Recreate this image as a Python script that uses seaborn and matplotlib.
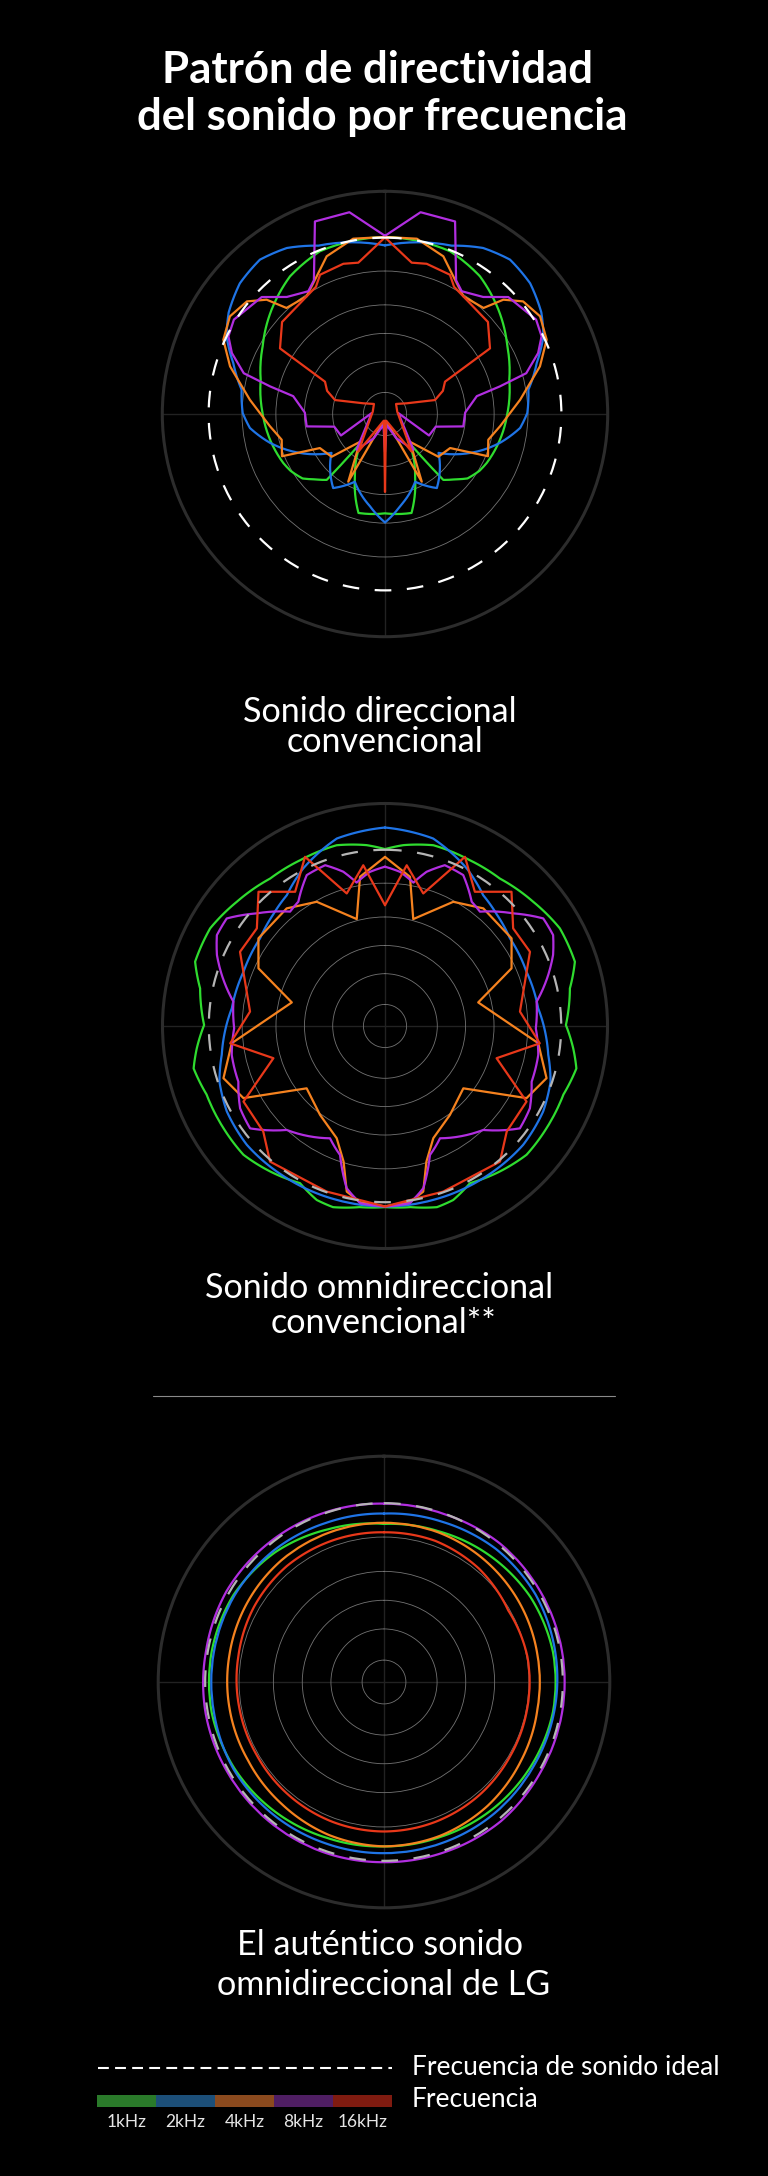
import numpy as np
import pandas as pd
import matplotlib
matplotlib.use("Agg")
import matplotlib.pyplot as plt
import seaborn as sns
from matplotlib.patches import Rectangle

# --------------------------------------------------
# THEME
# --------------------------------------------------
sns.set_theme(style="dark", rc={"axes.facecolor": "black", "figure.facecolor": "black"})
plt.rcParams['font.family'] = ['Lato', 'DejaVu Sans']

W, H = 768, 2176

# --------------------------------------------------
# DATA (angle in degrees clockwise from front, radius relative to outer ring)
# --------------------------------------------------
FREQS = ['1kHz', '2kHz', '4kHz', '8kHz', '16kHz']
LINE_COLORS = ['#2fdc2f', '#1f74e6', '#f5821f', '#b12ee0', '#e8381a']
LEGEND_COLORS = ['#2a7a2a', '#1c4f79', '#8b4a1e', '#4f1e63', '#7f1b10']

IDEAL_R = 0.792
RING_R = [0.097, 0.235, 0.362, 0.49, 0.642]

# chart 1: conventional directional (half profiles, mirrored)
c1_theta_1k = [0, 21.8, 34.6, 47.4, 61, 74.6, 89.5, 102.6, 115.7, 121, 128, 133, 138.5, 140, 154.4, 165, 180]
c1_r_1k = [0.795, 0.787, 0.751, 0.692, 0.628, 0.579, 0.55, 0.529, 0.507, 0.495, 0.47, 0.43, 0.395, 0.163, 0.312, 0.46, 0.446]

c1_theta_2k = [0, 21.6, 30.6, 39, 48, 57, 63.9, 71.4, 80.4, 89.6, 95.9, 104, 110, 126, 145, 156, 170.8, 180]
c1_r_2k = [0.757, 0.813, 0.866, 0.892, 0.877, 0.837, 0.792, 0.719, 0.653, 0.639, 0.61, 0.533, 0.47, 0.297, 0.406, 0.333, 0.42, 0.487]

c1_theta_4k = [0, 10.3, 20.3, 26.4, 33.7, 42.9, 46, 50.8, 57.8, 65.3, 72.9, 84, 96, 104, 112.3, 117.6, 128.7, 138, 151.5, 167, 180]
c1_r_4k = [0.795, 0.80, 0.755, 0.69, 0.635, 0.65, 0.739, 0.80, 0.823, 0.799, 0.728, 0.61, 0.52, 0.478, 0.50, 0.33, 0.307, 0.168, 0.346, 0.035, 0.05]

c1_theta_8k = [0, 10, 20, 28, 32, 40, 46.5, 58, 63.6, 68.3, 73.9, 76.5, 79, 89, 99, 104, 116, 86, 141.5, 155, 172, 180]
c1_r_8k = [0.80, 0.92, 0.92, 0.68, 0.65, 0.686, 0.763, 0.80, 0.785, 0.74, 0.66, 0.53, 0.42, 0.36, 0.356, 0.235, 0.22, 0.06, 0.205, 0.12, 0.05, 0.17]

c1_theta_16k = [0, 10, 15.5, 25, 28.5, 48.2, 58, 61.7, 68.2, 74.4, 63.8, 47.7, 79.4, 144.7, 160, 172, 180]
c1_r_16k = [0.793, 0.69, 0.70, 0.69, 0.65, 0.62, 0.556, 0.306, 0.28, 0.233, 0.109, 0.067, 0.056, 0.207, 0.044, 0.03, 0.35]

# chart 2: conventional omnidirectional (half profiles, mirrored)
c2_theta_1k = [0, 5.8, 15, 27, 37.9, 50, 60.8, 71.3, 78.5, 89.7, 96.8, 102.5, 111, 122.3, 132.3, 141.7, 151.6, 158.6, 164, 172, 180]
c2_r_1k = [0.795, 0.817, 0.841, 0.837, 0.84, 0.869, 0.90, 0.901, 0.848, 0.813, 0.852, 0.881, 0.859, 0.859, 0.86, 0.833, 0.803, 0.84, 0.847, 0.822, 0.814]

c2_theta_2k = [0, 14.4, 27.4, 36.9, 45, 54.9, 69, 83.4, 100, 108.6, 118.4, 130.7, 147.2, 164.5, 180]
c2_r_2k = [0.892, 0.87, 0.798, 0.735, 0.71, 0.686, 0.681, 0.693, 0.745, 0.785, 0.808, 0.819, 0.814, 0.811, 0.811]

c2_theta_4k = [0, 9.5, 14.8, 28.8, 39.9, 55.3, 65.5, 75.8, 96.4, 107.9, 117, 128.5, 143.9, 156.7, 163, 167, 172, 180]
c2_r_4k = [0.76, 0.68, 0.497, 0.637, 0.689, 0.692, 0.625, 0.432, 0.693, 0.763, 0.714, 0.45, 0.495, 0.549, 0.637, 0.764, 0.80, 0.811]

c2_theta_8k = [0, 5.6, 11.2, 15.1, 20.4, 27.4, 34.9, 39.7, 48.7, 55.8, 61.6, 67.1, 72.7, 80.9, 90.9, 100.7, 110.8, 119.6, 127.2, 136.6, 153.9, 160.8, 166.7, 172, 180]
c2_r_8k = [0.716, 0.696, 0.657, 0.718, 0.771, 0.764, 0.681, 0.668, 0.767, 0.86, 0.859, 0.82, 0.768, 0.69, 0.678, 0.701, 0.705, 0.749, 0.761, 0.643, 0.562, 0.614, 0.749, 0.804, 0.811]

c2_theta_16k = [0, 7.7, 16.1, 25.3, 33.8, 43.3, 52.7, 62.9, 83.9, 96.4, 106.1, 118.1, 130.9, 139.7, 160.6, 180]
c2_r_16k = [0.543, 0.729, 0.62, 0.841, 0.726, 0.829, 0.724, 0.732, 0.61, 0.70, 0.522, 0.721, 0.724, 0.799, 0.789, 0.811]

# chart 3: LG omnidirectional (full turn, every 20 degrees)
c3_theta = [0, 20, 40, 60, 80, 100, 120, 140, 160, 180, 200, 220, 240, 260, 280, 300, 320, 340]
c3_r_1k = [0.70, 0.71, 0.73, 0.75, 0.76, 0.76, 0.75, 0.74, 0.73, 0.728, 0.735, 0.75, 0.765, 0.775, 0.775, 0.77, 0.75, 0.72]
c3_r_2k = [0.746, 0.755, 0.77, 0.775, 0.77, 0.765, 0.76, 0.76, 0.758, 0.758, 0.76, 0.765, 0.77, 0.765, 0.765, 0.765, 0.76, 0.75]
c3_r_4k = [0.705, 0.705, 0.70, 0.695, 0.69, 0.69, 0.70, 0.715, 0.725, 0.728, 0.72, 0.705, 0.695, 0.694, 0.695, 0.70, 0.705, 0.705]
c3_r_8k = [0.79, 0.79, 0.80, 0.80, 0.80, 0.80, 0.80, 0.805, 0.80, 0.798, 0.80, 0.80, 0.80, 0.802, 0.80, 0.805, 0.80, 0.795]
c3_r_16k = [0.663, 0.665, 0.655, 0.635, 0.645, 0.645, 0.648, 0.655, 0.66, 0.662, 0.66, 0.655, 0.65, 0.651, 0.655, 0.665, 0.67, 0.667]

# which traces are smooth curves (drawn as arcs between readings) per chart
c1_smooth = [True, True, False, False, False]
c2_smooth = [True, True, False, True, False]
c3_smooth = [True] * 5


# --------------------------------------------------
# HELPERS
# --------------------------------------------------
def mirrored(theta, r):
    t = np.asarray(theta, float)
    r = np.asarray(r, float)
    return np.concatenate([t, 360 - t[::-1]]), np.concatenate([r, r[::-1]])


def closed(theta, r):
    return list(theta) + [360], list(r) + [r[0]]


def polar_panel(fig, cx, cy, rad, series, smooth_flags, ideal_color):
    ax = fig.add_axes([(cx - rad) / W, 1 - (cy + rad) / H, 2 * rad / W, 2 * rad / H],
                      projection='polar')
    ax.set_facecolor('black')
    ax.set_theta_zero_location('N')
    ax.set_theta_direction(-1)

    for (theta, r), color, smooth in zip(series, LINE_COLORS, smooth_flags):
        df = pd.DataFrame({'theta': np.deg2rad(theta), 'r': r})
        sns.lineplot(data=df, x='theta', y='r', sort=False, estimator=None,
                     color=color, lw=1.6, ax=ax, zorder=3)
        if smooth:
            ax.lines[-1].get_path()._interpolation_steps = 16

    ax.axhline(IDEAL_R, color=ideal_color, lw=1.6, dashes=(7.5, 7), zorder=4)

    ax.set_ylim(0, 1)
    ax.set_yticks(RING_R)
    ax.set_xticks(np.deg2rad([0, 90, 180, 270]))
    ax.set_xticklabels([])
    ax.set_yticklabels([])
    ax.set_xlabel('')
    ax.set_ylabel('')
    ax.grid(axis='y', color='#737373', lw=0.6)
    ax.grid(axis='x', color='#222222', lw=1.0)
    ax.spines['polar'].set_color('#2c2c2c')
    ax.spines['polar'].set_linewidth(2.2)
    return ax


# --------------------------------------------------
# FIGURE
# --------------------------------------------------
fig = plt.figure(figsize=(W / 100, H / 100), dpi=100)
fig.patch.set_facecolor('black')

tx = fig.add_axes([0, 0, 1, 1])
tx.set_xlim(0, W)
tx.set_ylim(H, 0)
tx.axis('off')

chart1 = [mirrored(c1_theta_1k, c1_r_1k), mirrored(c1_theta_2k, c1_r_2k), mirrored(c1_theta_4k, c1_r_4k),
          mirrored(c1_theta_8k, c1_r_8k), mirrored(c1_theta_16k, c1_r_16k)]
chart2 = [mirrored(c2_theta_1k, c2_r_1k), mirrored(c2_theta_2k, c2_r_2k), mirrored(c2_theta_4k, c2_r_4k),
          mirrored(c2_theta_8k, c2_r_8k), mirrored(c2_theta_16k, c2_r_16k)]
chart3 = [closed(c3_theta, rr) for rr in [c3_r_1k, c3_r_2k, c3_r_4k, c3_r_8k, c3_r_16k]]

polar_panel(fig, 385, 414, 222.7, chart1, c1_smooth, 'white')
polar_panel(fig, 385, 1026, 222.5, chart2, c2_smooth, '#b5b5b5')
polar_panel(fig, 384, 1682, 225.8, chart3, c3_smooth, '#b5b5b5')

# titles
title_kw = dict(color='white', ha='center', va='baseline', fontsize=31.5, fontweight='bold')
tx.text(377, 82.6, 'Patrón de directividad', **title_kw)
tx.text(382, 130, 'del sonido por frecuencia', **title_kw)

sub_kw = dict(color='white', ha='center', va='baseline', fontsize=24.6)
tx.text(380, 721.7, 'Sonido direccional', **sub_kw)
tx.text(384.5, 751.7, 'convencional', **sub_kw)
tx.text(379, 1297.7, 'Sonido omnidireccional', **sub_kw)
tx.text(383, 1333.3, 'convencional**', **sub_kw)
tx.text(380, 1955, 'El auténtico sonido', **sub_kw)
tx.text(384, 1995, 'omnidireccional de LG', **sub_kw)

# separator
tx.plot([153, 615], [1396, 1396], color='#8a8a8a', lw=0.8)

# legend
tx.plot([98, 392], [2068, 2068], color='white', lw=1.5, dashes=(5.2, 3))
tx.text(412, 2075, 'Frecuencia de sonido ideal', color='white', fontsize=19, va='baseline')
tx.text(412, 2106.7, 'Frecuencia', color='white', fontsize=19, va='baseline')
seg_w = (392 - 97) / len(FREQS)
for i, (lab, col) in enumerate(zip(FREQS, LEGEND_COLORS)):
    tx.add_patch(Rectangle((97 + i * seg_w, 2095), seg_w, 11.7, color=col, lw=0))
    tx.text(97 + (i + 0.5) * seg_w, 2126.7, lab, color='#e6e6e6', fontsize=12.5,
            ha='center', va='baseline')

fig.savefig('out.png', dpi=100, facecolor='black')
